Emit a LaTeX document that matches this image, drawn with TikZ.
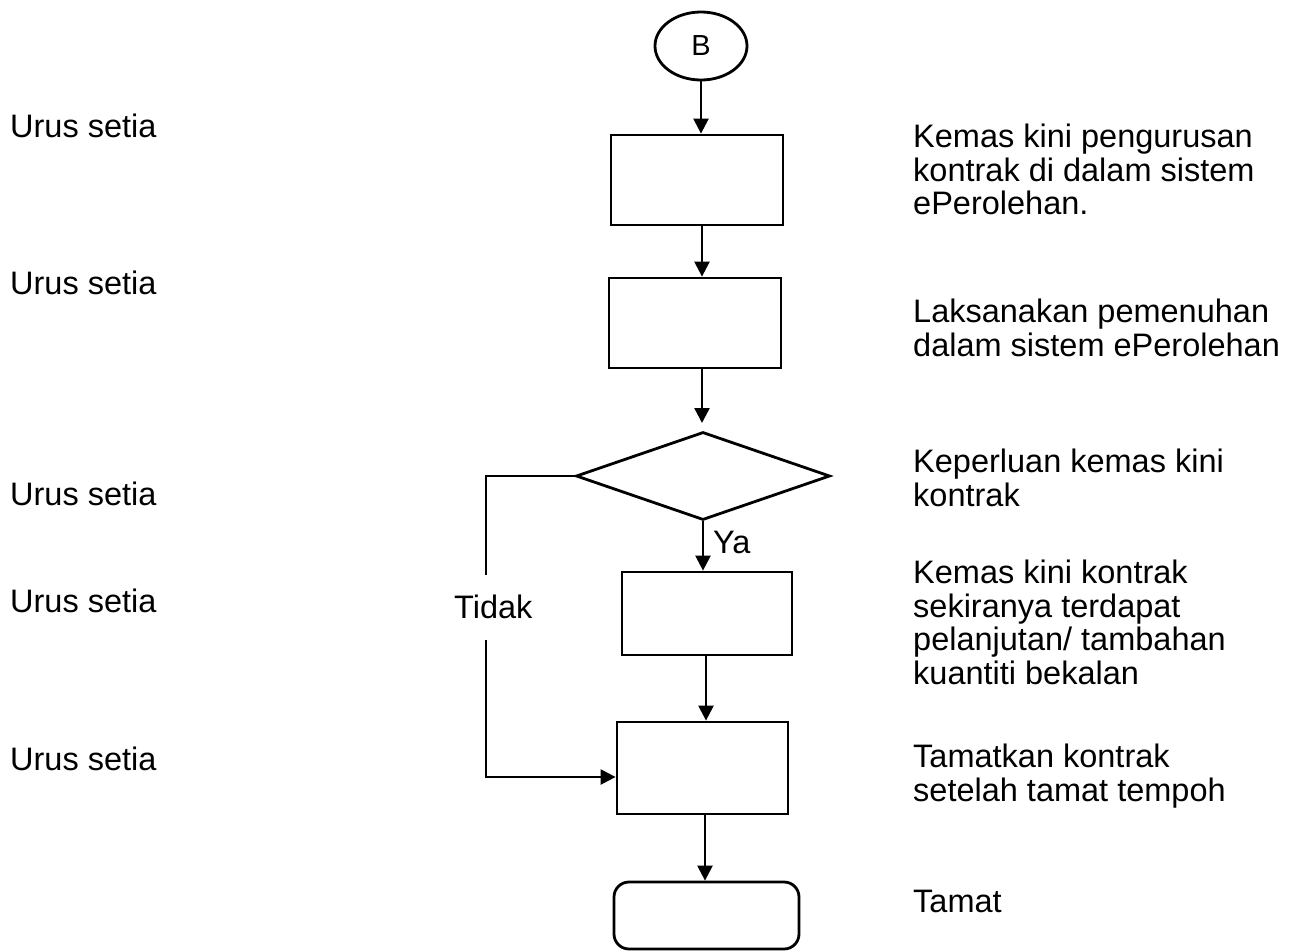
\documentclass[tikz,border=0pt]{standalone}
\usepackage{fontspec}
\setmainfont{Liberation Sans}
\usetikzlibrary{shapes.geometric,arrows.meta}
\begin{document}
\begin{tikzpicture}[x=1pt,y=-1pt,
  every node/.style={font=\fontsize{32.5}{33.5}\selectfont},
  stepbox/.style={draw,line width=2.8pt,inner sep=0pt},
  flow/.style={line width=2.4pt,-{Triangle[width=15pt,length=15pt]}},
  plain/.style={line width=2.4pt},
  role/.style={anchor=base west,inner sep=0pt},
  desc/.style={anchor=north west,inner sep=0pt,align=left}]
\useasboundingbox (0,0) rectangle (1291,951);

% connector symbol and process steps
\node[stepbox,ellipse,minimum width=92pt,minimum height=68pt] (start) at (701,46)
      {\fontsize{29}{30}\selectfont B};
\node[stepbox,minimum width=172pt,minimum height=90pt] (s1) at (697,180) {};
\node[stepbox,minimum width=172pt,minimum height=90pt] (s2) at (695,323) {};
\node[stepbox,diamond,minimum width=254pt,minimum height=88pt] (dec) at (703,476) {};
\node[stepbox,minimum width=170pt,minimum height=83pt] (s4) at (707,613.5) {};
\node[stepbox,minimum width=171pt,minimum height=92pt] (s5) at (702.5,768) {};
\node[stepbox,rounded corners=15pt,minimum width=185pt,minimum height=67pt] (stop) at (706.5,915.5) {};

% vertical flow
\draw[flow] (start.south) -- (start.south |- s1.north);
\draw[flow] (702,225) coordinate (a1) -- (a1 |- s2.north);
\draw[flow] (702,368) coordinate (a2) -- (702,423);
\draw[flow] (dec.south) -- (dec.south |- s4.north);
\node[role] (ya) at (713,553) {Ya};
\draw[flow] (706,655) coordinate (a4) -- (a4 |- s5.north);
\draw[flow] (705,814) coordinate (a5) -- (a5 |- stop.north);

% "Tidak" branch
\coordinate (tt) at (486,575);
\coordinate (tb) at (486,640);
\draw[plain] (dec.west) -| (tt);
\draw[flow] (tb) |- ([yshift=-9pt]s5.west);
\node[role] (tidak) at (454,618) {Tidak};

% responsible parties
\node[role] (r1) at (10,137) {Urus setia};
\node[role] (r2) at (10,294) {Urus setia};
\node[role] (r3) at (10,505) {Urus setia};
\node[role] (r4) at (10,612) {Urus setia};
\node[role] (r5) at (10,770) {Urus setia};

% step descriptions
\node[desc] (d1) at (913,124) {Kemas kini pengurusan\\kontrak di dalam sistem\\ePerolehan.};
\node[desc] (d2) at (913,299) {Laksanakan pemenuhan\\dalam sistem ePerolehan};
\node[desc] (d3) at (913,449) {Keperluan kemas kini\\kontrak};
\node[desc] (d4) at (913,560) {Kemas kini kontrak\\sekiranya terdapat\\pelanjutan/ tambahan\\kuantiti bekalan};
\node[desc] (d5) at (913,744) {Tamatkan kontrak\\setelah tamat tempoh};
\node[desc] (d6) at (913,890) {Tamat};
\end{tikzpicture}
\end{document}
